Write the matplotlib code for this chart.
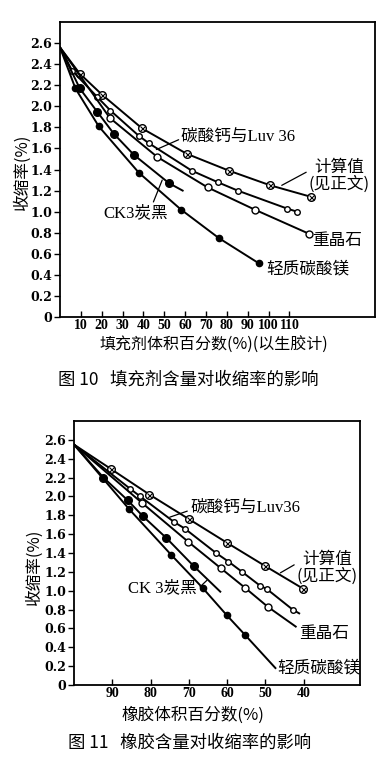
import numpy as np
import matplotlib.pyplot as plt

# ---- data ----
y_ticks = [0, 0.2, 0.4, 0.6, 0.8, 1.0, 1.2, 1.4, 1.6, 1.8, 2.0, 2.2, 2.4, 2.6]
y_ticklabels = ['0', '0.2', '0.4', '0.6', '0.8', '1.0', '1.2', '1.4', '1.6',
                '1.8', '2.0', '2.2', '2.4', '2.6']

# Fig.10: filler volume % (on rubber) vs shrinkage %
f10_xticks = [10, 20, 30, 40, 50, 60, 70, 80, 90, 100, 110]
f10_calc_x = [0, 9.5, 20.2, 39.4, 60.7, 80.9, 100.8, 120.5]
f10_calc_y = [2.56, 2.31, 2.11, 1.79, 1.55, 1.39, 1.25, 1.14]
f10_luv_x = [0, 5.8, 17.8, 24.2, 37.8, 42.6, 63.1, 75.6, 85.2, 108.8, 113.6]
f10_luv_y = [2.56, 2.34, 2.09, 1.96, 1.72, 1.65, 1.39, 1.28, 1.20, 1.03, 1.00]
f10_barite_x = [0, 23.9, 46.6, 70.8, 93.3, 119.4]
f10_barite_y = [2.56, 1.89, 1.52, 1.23, 1.02, 0.79]
f10_ck3_x = [0, 9.5, 17.8, 25.8, 35.4, 52.3, 58.8]
f10_ck3_y = [2.56, 2.17, 1.95, 1.74, 1.54, 1.27, 1.20]
f10_mg_x = [0, 7.4, 18.6, 37.8, 58.0, 76.1, 95.3]
f10_mg_y = [2.56, 2.17, 1.81, 1.37, 1.02, 0.75, 0.51]

# Fig.11: rubber volume % vs shrinkage %
f11_xticks = [90, 80, 70, 60, 50, 40]
f11_calc_x = [100, 90.3, 80.3, 70.0, 60.1, 50.0, 40.1]
f11_calc_y = [2.55, 2.29, 2.02, 1.76, 1.51, 1.26, 1.02]
f11_luv_x = [100, 85.3, 82.7, 73.9, 71.1, 62.9, 59.7, 56.1, 51.3, 49.7, 42.9, 41.2]
f11_luv_y = [2.55, 2.08, 2.00, 1.73, 1.66, 1.40, 1.31, 1.20, 1.05, 1.02, 0.80, 0.76]
f11_barite_x = [100, 82.2, 70.2, 61.7, 55.3, 49.4, 42.1]
f11_barite_y = [2.55, 1.93, 1.52, 1.24, 1.03, 0.83, 0.62]
f11_ck3_x = [100, 92.3, 86.0, 82.0, 75.9, 68.7, 61.8]
f11_ck3_y = [2.55, 2.20, 1.96, 1.79, 1.56, 1.26, 0.99]
f11_mg_x = [100, 85.7, 74.6, 66.4, 60.1, 55.3, 47.4]
f11_mg_y = [2.55, 1.87, 1.38, 1.03, 0.74, 0.53, 0.18]

cjk = ['Noto Sans CJK SC', 'DejaVu Sans']
num = ['DejaVu Serif', 'Noto Sans CJK SC']
lab = ['Liberation Serif', 'Noto Sans CJK SC']

plt.rcParams['font.family'] = num

fig = plt.figure(figsize=(3.88, 7.62), dpi=100)
ax1 = fig.add_axes([0.1546, 0.584, 0.8119, 0.387])
ax2 = fig.add_axes([0.1907, 0.101, 0.7373, 0.3465])

lw = 1.4


def curve(ax, xs, ys, kind, last_marker=True):
    n = len(xs) if last_marker else len(xs) - 1
    idx = list(range(1, n))
    if kind == 'cross':
        ax.plot(xs, ys, color='k', lw=lw, marker='o', ms=5.5, mfc='white',
                mec='k', mew=1.0, markevery=idx)
        ax.plot(np.array(xs)[idx], np.array(ys)[idx], ls='none', marker='x',
                ms=3.6, mec='k', mew=0.8)
    elif kind == 'small':
        ax.plot(xs, ys, color='k', lw=lw, marker='o', ms=4, mfc='white',
                mec='k', mew=1.0, markevery=idx)
    elif kind == 'open':
        ax.plot(xs, ys, color='k', lw=lw, marker='o', ms=5, mfc='white',
                mec='k', mew=1.0, markevery=idx)
    elif kind == 'big':
        ax.plot(xs, ys, color='k', lw=lw, marker='o', ms=5.5, mfc='k',
                mec='k', markevery=idx)
    else:
        ax.plot(xs, ys, color='k', lw=lw, marker='o', ms=4.5, mfc='k',
                mec='k', markevery=idx)


curve(ax1, f10_calc_x, f10_calc_y, 'cross')
curve(ax1, f10_luv_x, f10_luv_y, 'small')
curve(ax1, f10_barite_x, f10_barite_y, 'open')
curve(ax1, f10_ck3_x, f10_ck3_y, 'big', last_marker=False)
curve(ax1, f10_mg_x, f10_mg_y, 'fill')

curve(ax2, f11_calc_x, f11_calc_y, 'cross')
curve(ax2, f11_luv_x, f11_luv_y, 'small', last_marker=False)
curve(ax2, f11_barite_x, f11_barite_y, 'open', last_marker=False)
curve(ax2, f11_ck3_x, f11_ck3_y, 'big', last_marker=False)
curve(ax2, f11_mg_x, f11_mg_y, 'fill', last_marker=False)

ax1.set_xlim(0, 151)
ax2.set_xlim(100, 25.3)

for ax, xt in ((ax1, f10_xticks), (ax2, f11_xticks)):
    ax.set_ylim(0, 2.8)
    ax.set_yticks(y_ticks)
    ax.set_yticklabels(y_ticklabels, fontsize=9, fontweight='bold')
    ax.set_xticks(xt)
    ax.set_xticklabels([str(v) for v in xt], family='Liberation Serif',
                       fontsize=10, fontweight='bold')
    ax.tick_params(axis='y', direction='out', length=4, width=1, pad=1.5)
    ax.tick_params(axis='x', direction='in', length=4, width=1, pad=1.5)
    for s in ax.spines.values():
        s.set_linewidth(1.3)

ak = dict(arrowstyle='-', lw=0.9, color='k', shrinkA=0, shrinkB=0)
fs = 12

# Fig.10 labels
ax1.annotate('碳酸钙与Luv 36', xy=(46.2, 1.59), xytext=(58.2, 1.71),
             ha='left', va='center', fontsize=fs, family=lab,
             arrowprops=dict(ak, relpos=(0, 0.4)))
ax1.annotate('计算值\n(见正文)', xy=(106.3, 1.25), xytext=(134.0, 1.34),
             ha='center', va='center', fontsize=fs, family=cjk, linespacing=0.95,
             arrowprops=dict(ak, relpos=(0.1, 0.75)))
ax1.text(121.0, 0.73, '重晶石', ha='left', va='center', fontsize=fs, family=cjk)
ax1.text(99, 0.46, '轻质碳酸镁', ha='left', va='center', fontsize=fs, family=cjk)
ax1.annotate('CK3炭黑', xy=(49.0, 1.30), xytext=(36.5, 0.99),
             ha='center', va='center', fontsize=fs, family=lab,
             arrowprops=dict(ak, relpos=(0.75, 1.0)))

# Fig.11 labels
ax2.annotate('碳酸钙与Luv36', xy=(75.0, 1.78), xytext=(69.7, 1.88),
             ha='left', va='center', fontsize=fs, family=lab,
             arrowprops=dict(ak, relpos=(0, 0.35)))
ax2.annotate('计算值\n(见正文)', xy=(46.1, 1.19), xytext=(33.8, 1.24),
             ha='center', va='center', fontsize=fs, family=cjk, linespacing=0.95,
             arrowprops=dict(ak, relpos=(0.1, 0.75)))
ax2.text(41.3, 0.55, '重晶石', ha='left', va='center', fontsize=fs, family=cjk)
ax2.text(46.8, 0.18, '轻质碳酸镁', ha='left', va='center', fontsize=fs, family=cjk)
ax2.annotate('CK 3炭黑', xy=(65.3, 1.11), xytext=(76.8, 1.03),
             ha='center', va='center', fontsize=fs, family=lab,
             arrowprops=dict(ak, relpos=(0.95, 0.2)))

# axis titles and captions
fig.text(22 / 388, 1 - 172 / 762, '收缩率(%)', rotation=90, ha='center',
         va='center', fontsize=12, family=cjk)
fig.text(214 / 388, 1 - 345 / 762, '填充剂体积百分数(%)(以生胶计)', ha='center',
         va='center', fontsize=11.5, family=cjk)
fig.text(58 / 388, 1 - 380 / 762, '图 10   填充剂含量对收缩率的影响', ha='left',
         va='center', fontsize=12.5, family=cjk)

fig.text(34 / 388, 1 - 567 / 762, '收缩率(%)', rotation=90, ha='center',
         va='center', fontsize=12, family=cjk)
fig.text(193 / 388, 1 - 715 / 762, '橡胶体积百分数(%)', ha='center',
         va='center', fontsize=12, family=cjk)
fig.text(68 / 388, 1 - 743 / 762, '图 11   橡胶含量对收缩率的影响', ha='left',
         va='center', fontsize=12.5, family=cjk)

fig.savefig('out.png', dpi=100, facecolor='white')
